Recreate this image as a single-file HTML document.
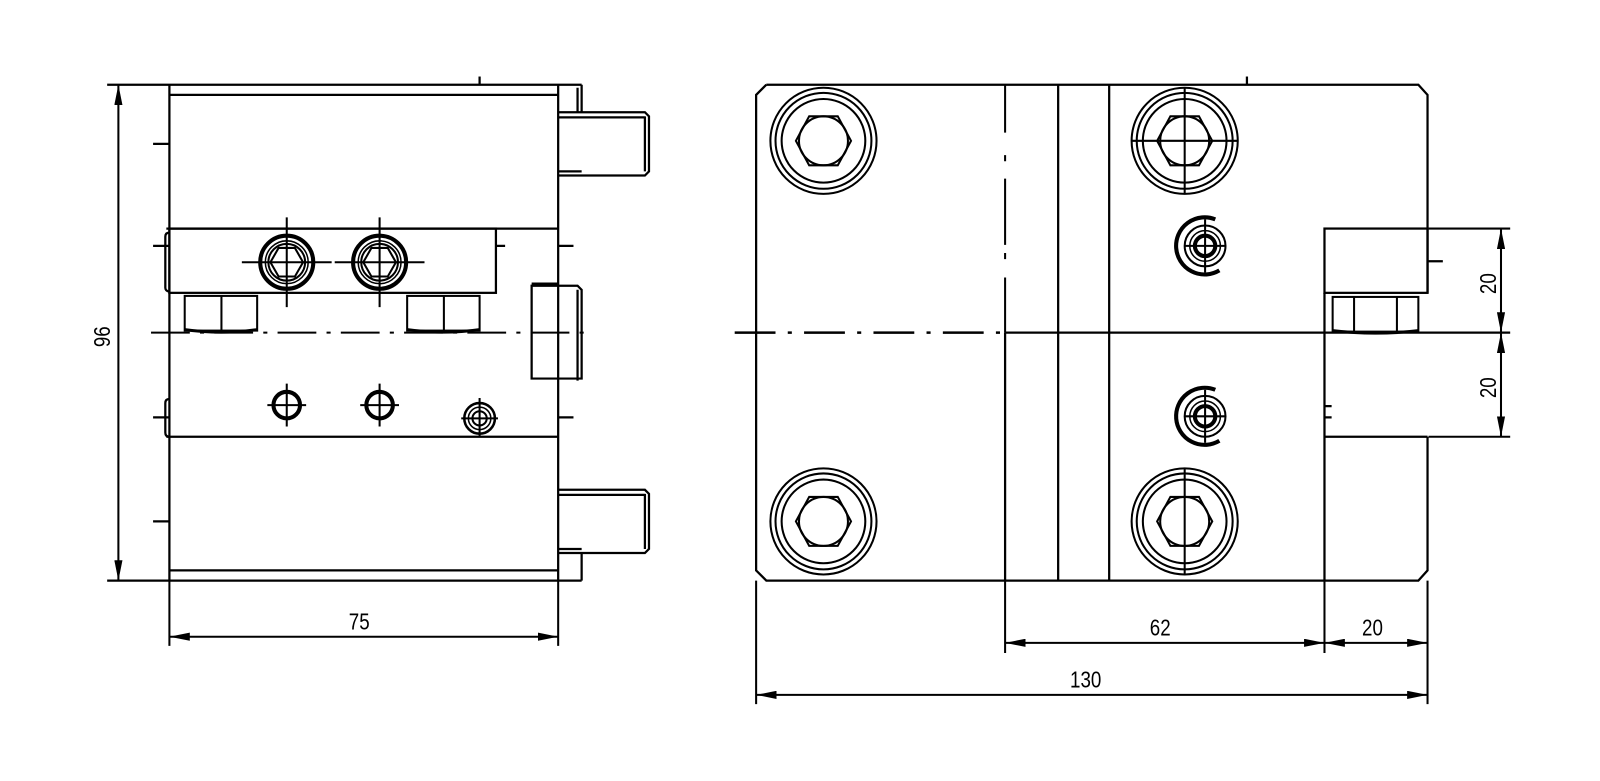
<!DOCTYPE html>
<html><head><meta charset="utf-8"><style>html,body{margin:0;padding:0;background:#fff}svg{display:block}</style></head>
<body>
<svg width="1600" height="781" viewBox="0 0 1568 765.4" xmlns="http://www.w3.org/2000/svg">
<defs>
<marker id="a" viewBox="0 0 20 8" refX="20" refY="4" markerWidth="20" markerHeight="8" markerUnits="userSpaceOnUse" orient="auto-start-reverse"><path d="M0,0 L20,4 L0,8 Z" fill="#000"/></marker>
<g id="bolt" fill="none" stroke="#000" stroke-width="2">
<circle r="52"/><circle r="47"/><circle r="41"/>
<polygon points="-27,0 -14,-24 14,-24 27,0 14,24 -14,24"/><circle r="24"/>
</g>
<g id="fit" fill="none" stroke="#000">
<path d="M10,-26 A28,28 0 1 0 14,24" stroke-width="4"/>
<circle r="20" stroke-width="2"/><circle r="15" stroke-width="1.5"/>
<circle r="10" stroke-width="4"/>
<line x1="-20" y1="0" x2="20" y2="0" stroke-width="2"/><line x1="0" y1="-26" x2="0" y2="26" stroke-width="2"/>
</g>
<g id="lb" fill="none" stroke="#000">
<circle r="26" stroke-width="4"/><circle r="21" stroke-width="1.5"/><circle r="18" stroke-width="2"/>
<polygon points="-16,0 -8,-14 8,-14 16,0 8,14 -8,14" stroke-width="2"/>
<line x1="-44" y1="0" x2="44" y2="0" stroke-width="2"/><line x1="0" y1="-44" x2="0" y2="44" stroke-width="2"/>
</g>
<g id="nut" fill="none" stroke="#000" stroke-width="2">
<rect x="0" y="0" width="71" height="34"/><line x1="36" y1="0" x2="36" y2="36"/>
<path d="M0,33 Q36,38 71,33" stroke-width="3"/>
</g>
</defs>
<g fill="none" stroke="#000" stroke-width="2.2">
<line x1="105" y1="83" x2="570" y2="83"/>
<line x1="470" y1="75" x2="470" y2="83"/>
<line x1="166" y1="83" x2="166" y2="569"/>
<line x1="166" y1="93" x2="547" y2="93"/>
<line x1="547" y1="83" x2="547" y2="569"/>
<line x1="105" y1="569" x2="570" y2="569"/>
<line x1="166" y1="559" x2="547" y2="559"/>
<path d="M570,83 V110 M566,86 V110 M570,542 V569"/>
<path d="M150,141 H166 M150,241 H166 M150,409 H166 M150,511 H166"/>
<path d="M547,241 H562 M547,409 H562 M486,241 H495"/>
<path d="M547,110 H632 L636,114 V168 L632,172 H547 M547,115 H632 M632,114 V168 M547,168 H570"/>
<path d="M547,480 H632 L636,484 V538 L632,542 H547 M547,485 H632 M632,484 V538 M547,538 H570"/>
<line x1="163" y1="224" x2="547" y2="224"/>
<rect x="166" y="224" width="320" height="63"/>
<line x1="163" y1="428" x2="547" y2="428"/>
<path d="M166,228 Q162,228 162,232 V282 Q162,285 166,286"/>
<path d="M166,391 Q162,391 162,395 V424 Q162,428 166,428"/>
<path d="M521,280 H566 L570,284 V371 H521 Z M547,278 H521"/>
<line x1="566" y1="284" x2="566" y2="373"/>
<path d="M148,326 H578" stroke-width="2" stroke-dasharray="38,10,4,10"/>
</g>
<use href="#nut" x="181" y="290"/>
<use href="#nut" x="399" y="290"/>
<use href="#lb" x="281" y="257"/>
<use href="#lb" x="372" y="257"/>
<g fill="none" stroke="#000">
<circle cx="281" cy="397" r="13" stroke-width="4"/><path d="M262,397 H300 M281,376 V418" stroke-width="2"/>
<circle cx="372" cy="397" r="13" stroke-width="4"/><path d="M353,397 H391 M372,376 V418" stroke-width="2"/>
<circle cx="470" cy="410" r="15" stroke-width="2.5"/><circle cx="470" cy="410" r="11" stroke-width="1.5"/><circle cx="470" cy="410" r="7" stroke-width="2"/>
<path d="M452,410 H488 M470,390 V428" stroke-width="2"/>
</g>
<g stroke="#000" stroke-width="2" fill="none">
<line x1="116" y1="83" x2="116" y2="569" marker-start="url(#a)" marker-end="url(#a)"/>
<line x1="166" y1="569" x2="166" y2="633"/>
<line x1="547" y1="569" x2="547" y2="633"/>
<line x1="166" y1="624" x2="547" y2="624" marker-start="url(#a)" marker-end="url(#a)"/>
</g>
<g font-family="Liberation Sans, sans-serif" font-size="23" fill="#000" text-anchor="middle">
<text transform="translate(108,330) rotate(-90) scale(0.8,1)">96</text>
<text transform="translate(352,617) scale(0.8,1)">75</text>
<text transform="translate(1137,623) scale(0.8,1)">62</text>
<text transform="translate(1345,623) scale(0.8,1)">20</text>
<text transform="translate(1064,674) scale(0.8,1)">130</text>
<text transform="translate(1466,278) rotate(-90) scale(0.8,1)">20</text>
<text transform="translate(1466,380) rotate(-90) scale(0.8,1)">20</text>
</g>
<g fill="none" stroke="#000" stroke-width="2.2">
<path d="M751,83 H1390 L1399,93 V287"/>
<path d="M1399,428 V559 L1390,569 H751 L741,559 V93 L751,83"/>
<line x1="1222" y1="75" x2="1222" y2="83"/>
<path d="M985,83 V130 M985,152 V158 M985,175 V240 M985,248 V254 M985,272 V326" stroke-width="2"/>
<line x1="985" y1="326" x2="985" y2="569"/>
<line x1="1037" y1="83" x2="1037" y2="569"/>
<line x1="1087" y1="83" x2="1087" y2="569"/>
<rect x="1298" y="224" width="101" height="63"/>
<line x1="1298" y1="287" x2="1298" y2="569"/>
<line x1="1298" y1="428" x2="1399" y2="428"/>
<path d="M1399,256 H1414 M1298,398 H1305 M1298,409 H1305"/>
<path d="M720,326 H985" stroke-width="2.5" stroke-dasharray="40,12,4,12"/>
<line x1="985" y1="326" x2="1480" y2="326"/>
</g>
<g transform="translate(1306,291)" fill="none" stroke="#000" stroke-width="2">
<rect x="0" y="0" width="84" height="34"/><line x1="21" y1="0" x2="21" y2="35"/><line x1="63" y1="0" x2="63" y2="35"/>
<path d="M0,33 Q42,38 84,33" stroke-width="3"/>
</g>
<use href="#bolt" x="807" y="138"/>
<use href="#bolt" x="807" y="511"/>
<use href="#bolt" x="1161" y="138"/>
<use href="#bolt" x="1161" y="511"/>
<g stroke="#000" stroke-width="2"><path d="M1109,138 H1213 M1161,86 V190 M1161,459 V563"/></g>
<use href="#fit" x="1181" y="241"/>
<use href="#fit" x="1181" y="408"/>
<g stroke="#000" stroke-width="2" fill="none">
<line x1="1400" y1="224" x2="1480" y2="224"/>
<line x1="1400" y1="428" x2="1480" y2="428"/>
<line x1="1471" y1="224" x2="1471" y2="326" marker-start="url(#a)" marker-end="url(#a)"/>
<line x1="1471" y1="326" x2="1471" y2="428" marker-start="url(#a)" marker-end="url(#a)"/>
<line x1="741" y1="569" x2="741" y2="690"/>
<line x1="985" y1="569" x2="985" y2="640"/>
<line x1="1298" y1="569" x2="1298" y2="640"/>
<line x1="1399" y1="569" x2="1399" y2="690"/>
<line x1="985" y1="630" x2="1298" y2="630" marker-start="url(#a)" marker-end="url(#a)"/>
<line x1="1298" y1="630" x2="1399" y2="630" marker-start="url(#a)" marker-end="url(#a)"/>
<line x1="741" y1="681" x2="1399" y2="681" marker-start="url(#a)" marker-end="url(#a)"/>
</g>
</svg>
</body></html>
